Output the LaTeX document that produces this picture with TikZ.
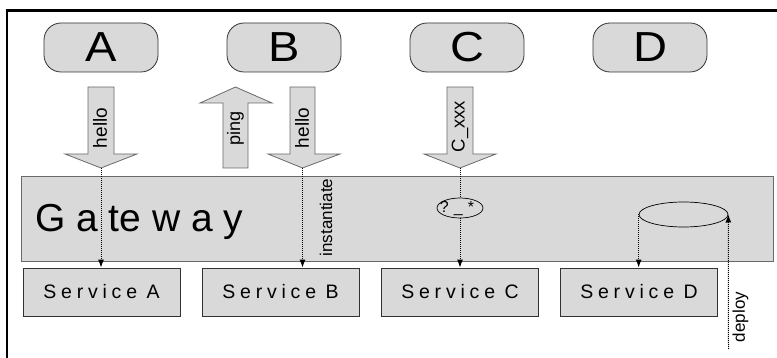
\documentclass[tikz,border=0pt]{standalone}
\usepackage{fontspec}
\setmainfont{Liberation Sans}
\usetikzlibrary{arrows.meta,shapes.geometric}
\definecolor{boxfill}{RGB}{217,217,217}
\definecolor{edgec}{RGB}{50,50,50}
\definecolor{arrowedge}{RGB}{105,105,105}
\def\lsloop#1{\ifx#1\relax\else#1\kern4.8pt\expandafter\lsloop\fi}
\newcommand\spacedtxt[1]{\lsloop#1\relax\unkern}
\newcommand\svctxt[1]{\spacedtxt{Service}\kern9.5pt\relax #1}
\begin{document}
\begin{tikzpicture}[x=1pt,y=-1pt,
  pill/.style={draw=edgec, line width=0.8pt, fill=boxfill, rounded corners=17pt,
    minimum width=114pt, minimum height=49pt, inner sep=0pt,
    font=\fontsize{42}{42}\selectfont},
  barrow/.style={fill=boxfill, draw=arrowedge, line width=0.8pt},
  blabel/.style={rotate=90, inner sep=0pt, font=\fontsize{17}{17}\selectfont},
  svc/.style={draw=edgec, line width=0.8pt, fill=boxfill, minimum width=157pt,
    minimum height=48pt, inner sep=0pt, font=\fontsize{19.5}{19.5}\selectfont},
  gw/.style={draw=arrowedge, line width=0.8pt, fill=boxfill, minimum width=752pt,
    minimum height=85pt, inner sep=0pt},
  dl/.style={densely dotted, line width=1pt, -{Latex[length=8pt,width=6pt]}},
  dlplain/.style={densely dotted, line width=1pt},
  frameline/.style={line width=3pt, draw=black}
]
\useasboundingbox (0,0) rectangle (777,358);
% outer frame (left and top visible)
\draw[line width=2.5pt] (7,358) -- (7,10.5);
\draw[frameline] (5.75,10.5) -- (777,10.5);

% gateway
\node[gw] (gw) at (397,218.5) {};
\node[anchor=base west, inner sep=0pt, font=\fontsize{39}{39}\selectfont] (gwl) at (35,232) {G a te w a y};

% clients
\node[pill] (pA) at (101,47.5) {\scalebox{1.12}[1]{A}};
\node[pill] (pB) at (284,47.5) {\scalebox{1.12}[1]{B}};
\node[pill] (pC) at (467,47.5) {\scalebox{1.12}[1]{C}};
\node[pill] (pD) at (650,47.5) {\scalebox{1.12}[1]{D}};

% block arrows
\filldraw[barrow] (88,87) -- (114,87) -- (114,154) -- (137,154) -- (101,168) -- (65,154) -- (88,154) -- cycle;
\filldraw[barrow] (223,168) -- (223,103) -- (200,103) -- (235.5,87) -- (272,103) -- (248,103) -- (248,168) -- cycle;
\filldraw[barrow] (290,87) -- (315,87) -- (315,154) -- (340,154) -- (302.5,168) -- (268,154) -- (290,154) -- cycle;
\filldraw[barrow] (447,87) -- (473,87) -- (473,154) -- (496,154) -- (460,168) -- (424,154) -- (447,154) -- cycle;
\coordinate (tA) at (101,168);
\coordinate (tB) at (302.5,168);
\coordinate (tC) at (460,168);

\node[blabel, font=\fontsize{19}{19}\selectfont] (lA) at (100,128) {hello};
\node[blabel, font=\fontsize{18}{18}\selectfont] (lP) at (235.5,128.5) {ping};
\node[blabel, font=\fontsize{19}{19}\selectfont] (lB) at (302,128) {hello};
\node[blabel, font=\fontsize{18.5}{18.5}\selectfont] (lC) at (460,126.5) {C\_xxx};

% services
\node[svc] (sA) at (101.5,292) {\svctxt{A}};
\node[svc] (sB) at (280.5,292) {\svctxt{B}};
\node[svc] (sC) at (460,292) {\svctxt{C}};
\node[svc] (sD) at (639,292) {\svctxt{D}};

% selector ellipse
\node[draw=black, line width=0.7pt, ellipse, minimum width=46pt, minimum height=20pt, inner sep=0pt] (sel) at (460,208) {};
\node[inner sep=0pt, font=\fontsize{16}{16}\selectfont] (selt) at (457,208.5) {?\kern5pt\_\kern5pt*};

% cylinder top
\node[draw=black, line width=0.7pt, ellipse, minimum width=89pt, minimum height=25pt, inner sep=0pt] (cyl) at (683.5,214.5) {};

% connectors
\draw[dl] (tA) -- (tA |- sA.north);
\draw[dl] (tB) -- (tB |- sB.north);
\draw[dlplain] (tC) -- (sel.north);
\draw[dl] (sel.south) -- (sel.south |- sC.north);
\draw[dl] (cyl.west) -- (cyl.west |- sD.north);
\coordinate (dep) at (728.5,349);
\draw[dl] (dep) -- (cyl.east);

\node[blabel] (inst) at (326,217.5) {instantiate};
\node[blabel] (depl) at (740.5,317) {deploy};
\end{tikzpicture}
\end{document}
